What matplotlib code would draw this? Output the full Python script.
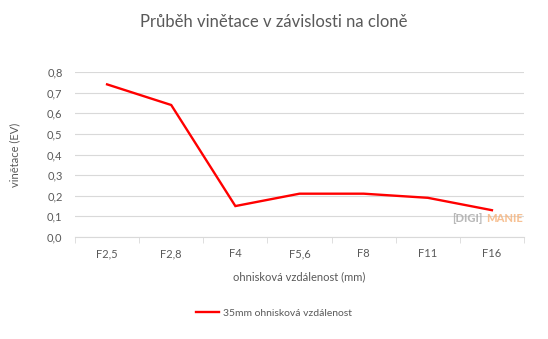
import matplotlib
matplotlib.use("Agg")
import matplotlib.pyplot as plt
import numpy as np

categories = ["F2,5", "F2,8", "F4", "F5,6", "F8", "F11", "F16"]
values = [0.74, 0.64, 0.15, 0.21, 0.21, 0.19, 0.13]
yticks = [0.0, 0.1, 0.2, 0.3, 0.4, 0.5, 0.6, 0.7, 0.8]
series_name = "35mm ohnisková vzdálenost"

plt.rcParams['font.family'] = ['Lato', 'DejaVu Sans']
W, H = 548, 339
fig = plt.figure(figsize=(W/100, H/100), dpi=100)
ax = fig.add_axes([75/W, 1-237/H, (524-75)/W, (237-72)/H])

x = np.arange(len(categories))
ax.plot(x, values, color="#ff0000", lw=1.7, solid_joinstyle="miter", label=series_name)
ax.set_xlim(-0.5, len(categories)-0.5)
ax.set_ylim(0, 0.8)
ax.set_yticks(yticks)
ax.set_yticklabels([f"{v:.1f}".replace(".", ",") for v in yticks], color="#595959", fontsize=8)
ax.yaxis.grid(True, color="#d9d9d9", lw=0.8)
ax.set_axisbelow(True)
ax.tick_params(axis="y", length=0, pad=9)
ax.set_xticks(x)
ax.set_xticklabels(categories, color="#595959", fontsize=8)
ax.set_xticks(np.arange(len(categories)+1)-0.5, minor=True)
ax.tick_params(axis="x", which="major", length=0, pad=8)
ax.tick_params(axis="x", which="minor", length=4, color="#d9d9d9")
for s in ["top", "right", "left"]:
    ax.spines[s].set_visible(False)
ax.spines["bottom"].set_color("#d9d9d9")

ax.set_ylabel("vinětace (EV)", color="#595959", fontsize=8)
ax.yaxis.set_label_coords(-(75-20)/(524-75), 0.5)
ax.set_xlabel("ohnisková vzdálenost (mm)", color="#595959", fontsize=8, labelpad=9)

fig.text(0.5, 1-22/H, "Průběh vinětace v závislosti na cloně", ha="center", va="center",
         color="#595959", fontsize=12)

fig.text(452/W, 1-218/H, "[DIGI]", color="#a8a8a8", fontsize=8, fontweight="black", va="center", ha="left", alpha=0.8)
fig.text(486/W, 1-218/H, "MANIE", color="#f5b27a", fontsize=8, fontweight="black", va="center", ha="left", alpha=0.8)

fig.legend(loc="center", bbox_to_anchor=(0.5, 1-313/H), frameon=False, fontsize=7.5,
           labelcolor="#595959", handlelength=2.2, handletextpad=0.4)

fig.savefig("out.png", dpi=100, facecolor="white")
